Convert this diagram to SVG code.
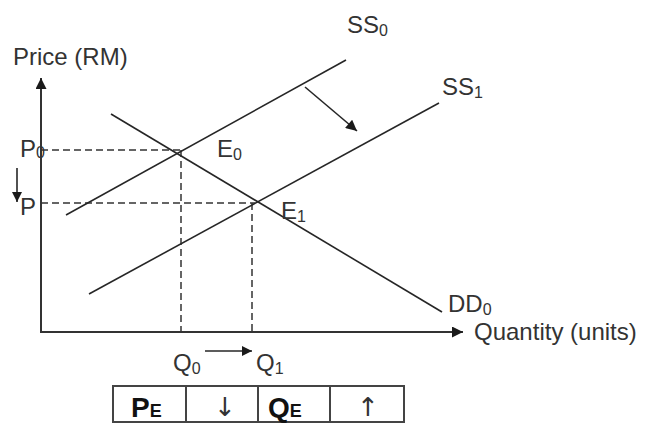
<svg xmlns="http://www.w3.org/2000/svg" width="646" height="423" viewBox="0 0 646 423">
<defs>
<marker id="ah" viewBox="0 0 10 10" refX="10" refY="5" markerUnits="userSpaceOnUse" markerWidth="15" markerHeight="11" orient="auto">
<path d="M0,0 L10,5 L0,10 z" fill="#1a1a1a"/>
</marker>
<marker id="ahs" viewBox="0 0 10 10" refX="10" refY="5" markerUnits="userSpaceOnUse" markerWidth="13" markerHeight="10" orient="auto">
<path d="M0,0 L10,5 L0,10 z" fill="#1a1a1a"/>
</marker>
</defs>
<style>
.ln{stroke:#262626;stroke-width:1.6;fill:none}
.ax{stroke:#333;stroke-width:2;fill:none}
.ds{stroke:#333;stroke-width:1.5;stroke-dasharray:7,4;fill:none}
.t{font-family:"Liberation Sans",Arial,sans-serif;font-size:24px;fill:#333}
.s{font-size:16px}
.b{font-family:"Liberation Sans",Arial,sans-serif;font-weight:bold;font-size:28px;fill:#111}
.bs{font-size:18px}
.ar{font-family:"DejaVu Sans",sans-serif;font-size:26px;fill:#333}
.cell{fill:#fff;stroke:#444;stroke-width:2}
</style>
<rect width="646" height="423" fill="#fff"/>
<g id="axes">
<line class="ax" x1="41" y1="332" x2="41" y2="78" marker-end="url(#ah)"/>
<line class="ax" x1="40" y1="332" x2="463" y2="332" marker-end="url(#ah)"/>
</g>
<g id="guides">
<line class="ds" x1="41" y1="150" x2="180" y2="150"/>
<line class="ds" x1="181" y1="150" x2="181" y2="332"/>
<line class="ds" x1="41" y1="203" x2="255" y2="203"/>
<line class="ds" x1="252" y1="203" x2="252" y2="332"/>
</g>
<g id="connectors">
<line id="SS0-line" class="ln" x1="66" y1="215" x2="346" y2="60"/>
<line id="SS1-line" class="ln" x1="89" y1="294" x2="439" y2="103"/>
<line id="DD0-line" class="ln" x1="111" y1="114" x2="442" y2="312"/>
<line id="shift-arrow" class="ln" x1="305" y1="87" x2="357" y2="131" marker-end="url(#ah)"/>
<line id="p-arrow" class="ln" x1="17" y1="168" x2="17" y2="202" marker-end="url(#ahs)"/>
<line id="q-arrow" class="ln" x1="205" y1="351" x2="252" y2="351" marker-end="url(#ahs)"/>
</g>
<g id="labels">
<text class="t" x="13" y="65">Price (RM)</text>
<text class="t" x="474" y="340">Quantity (units)</text>
<text class="t" x="347" y="33">SS<tspan class="s" dy="3">0</tspan></text>
<text class="t" x="442" y="95">SS<tspan class="s" dy="3">1</tspan></text>
<text class="t" x="448" y="312">DD<tspan class="s" dy="3">0</tspan></text>
<text class="t" x="217" y="157">E<tspan class="s" dy="3">0</tspan></text>
<text class="t" x="281" y="219">E<tspan class="s" dy="3">1</tspan></text>
<text class="t" x="20" y="157">P<tspan class="s" dy="1">0</tspan></text>
<text class="t" x="20" y="215">P</text>
<text class="t" x="173" y="371">Q<tspan class="s" dy="3">0</tspan></text>
<text class="t" x="256" y="371">Q<tspan class="s" dy="3">1</tspan></text>
</g>
<g id="table">
<rect class="cell" x="113" y="386" width="73" height="36"/>
<rect class="cell" x="186" y="386" width="72" height="36"/>
<rect class="cell" x="258" y="386" width="72" height="36"/>
<rect class="cell" x="330" y="386" width="74" height="36"/>
<text class="b" x="131" y="417">P<tspan class="bs">E</tspan></text>
<text class="ar" x="225" y="416" text-anchor="middle">↓</text>
<text class="b" x="268" y="417">Q<tspan class="bs">E</tspan></text>
<text class="ar" x="368" y="416" text-anchor="middle">↑</text>
</g>
</svg>
